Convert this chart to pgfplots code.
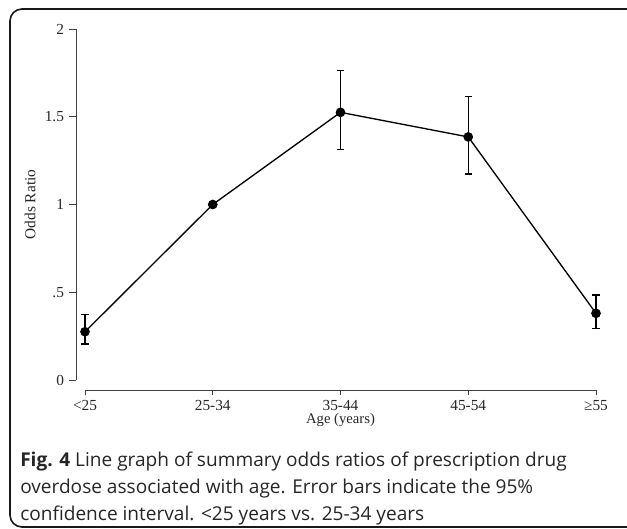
\documentclass[border=0pt]{standalone}
\usepackage{fontspec}
\setmainfont{Liberation Serif}
\newfontfamily\capfont{Open Sans}
\usepackage{pgfplots}
\pgfplotsset{compat=1.18}

\begin{document}
\begin{tikzpicture}
\useasboundingbox (-63.75pt,-111pt) rectangle (406.5pt,285pt);
\draw[line width=1.2pt, rounded corners=9pt, black!90] (-56.25pt,278.25pt) rectangle (430pt,-110.25pt);

% y axis
\begin{axis}[
  at={(-6.75pt,0pt)}, anchor=south west,
  x=95.8125pt, y=131.625pt,
  xmin=-0.0705, xmax=4,
  ymin=0, ymax=2,
  axis y line*=left, axis x line=none,
  axis line style={-, black!75, line width=0.6pt},
  ytick={0,0.5,1,1.5,2}, yticklabels={0,.5,1,1.5,2},
  tick align=outside, major tick length=5.5pt,
  tick style={black!75, line width=0.6pt},
  yticklabel style={font=\fontsize{11.5}{13}\selectfont, text=black!85},
  ylabel={Odds Ratio},
  ylabel style={font=\fontsize{11.5}{13}\selectfont, text=black!85},
]
\end{axis}

% x axis and data
\begin{axis}[
  at={(0pt,-7.5pt)}, anchor=south west,
  x=95.8125pt, y=131.625pt,
  xmin=0, xmax=4, ymin=-0.057, ymax=2,
  axis x line*=bottom, axis y line=none,
  axis line style={-, black!75, line width=0.6pt},
  xtick={0,1,2,3,4}, xticklabels={<25,25-34,35-44,45-54,≥55},
  tick align=outside, major tick length=4pt,
  tick style={black!75, line width=0.6pt},
  xticklabel style={font=\fontsize{11.5}{13}\selectfont, text=black!85},
  xlabel={Age (years)},
  xlabel style={font=\fontsize{11}{13}\selectfont, text=black!85, yshift=5pt},
  clip=false,
]
\addplot[black, line width=1pt, mark=*, mark size=3.1pt,
  error bars/.cd, y dir=both, y explicit,
  error bar style={line width=1pt, black},
  error mark options={rotate=90, mark size=2.8pt, line width=1pt, black}]
coordinates {
  (0,0.275) += (0,0.099) -= (0,0.070)
  (1,1.000) += (0,0) -= (0,0)
  (2,1.525) += (0,0.237) -= (0,0.210)
  (3,1.385) += (0,0.229) -= (0,0.211)
  (4,0.380) += (0,0.104) -= (0,0.086)
};
\end{axis}

\node[anchor=north west, inner sep=0pt, align=left, text=black!85,
  font=\capfont\fontsize{14.3}{20.5}\selectfont] at (-48.75pt,-53.5pt)
  {\textbf{Fig. 4} Line graph of summary odds ratios of prescription drug\\
   overdose associated with age. Error bars indicate the 95\%\\
   confidence interval. <25 years vs. 25-34 years};
\end{tikzpicture}
\end{document}
